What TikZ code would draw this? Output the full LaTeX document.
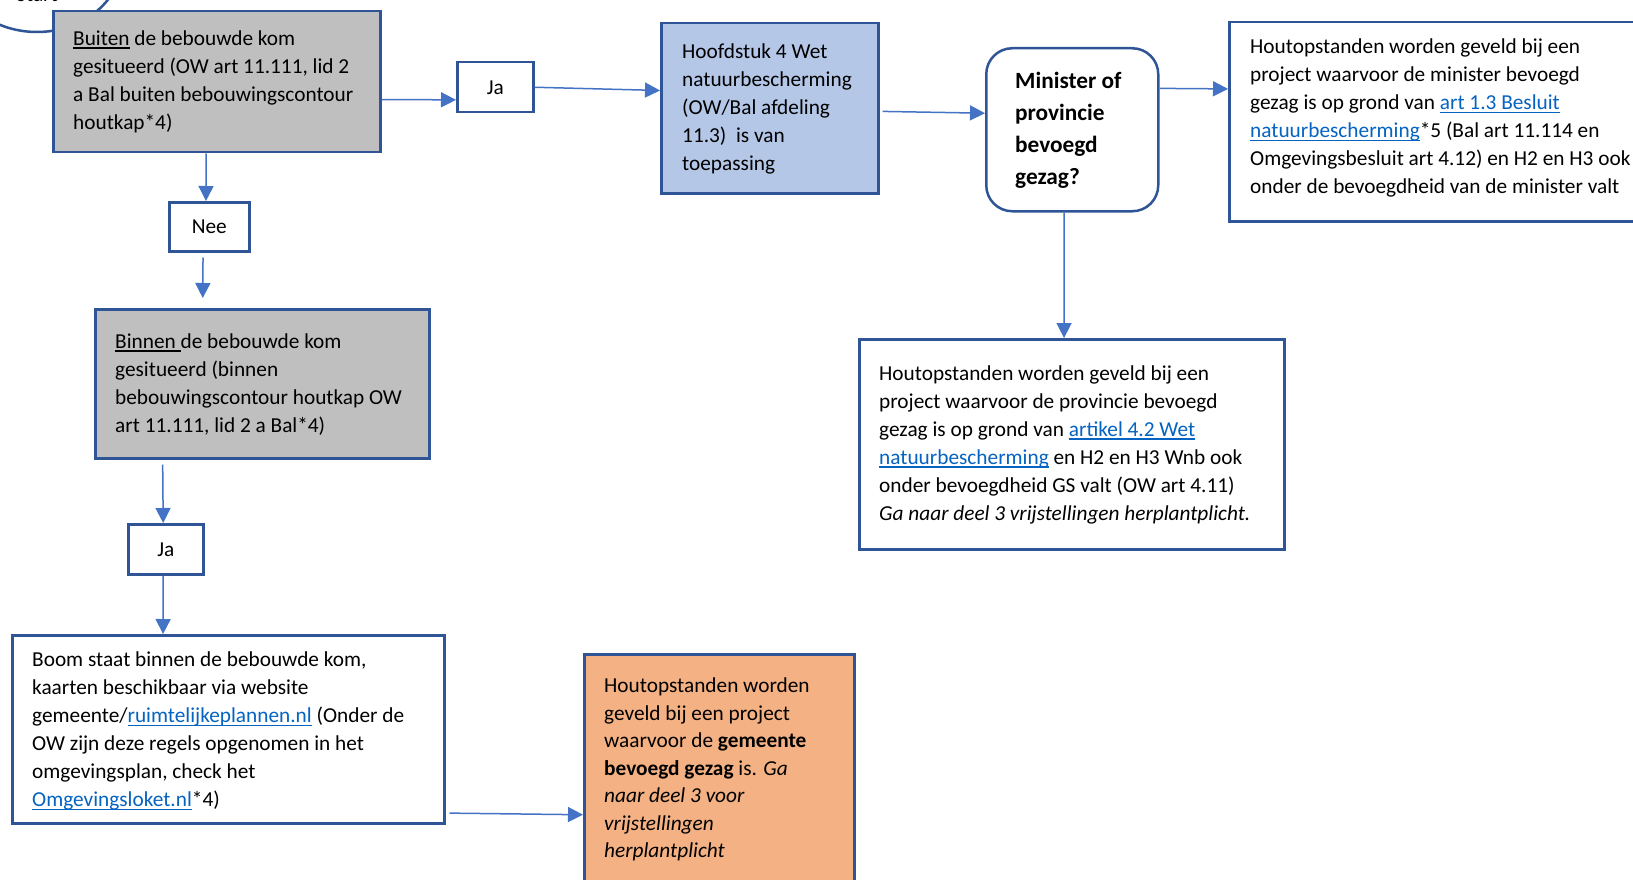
\documentclass[tikz,border=0pt]{standalone}
\usepackage{fontspec}
\setmainfont{Carlito}
\usetikzlibrary{arrows.meta,calc}
\definecolor{bdr}{HTML}{2F5597}
\definecolor{conn}{HTML}{4472C4}
\definecolor{grayfill}{HTML}{BFBFBF}
\definecolor{bluefill}{HTML}{B4C7E7}
\definecolor{orangefill}{HTML}{F4B183}
\definecolor{lnk}{HTML}{0563C1}
\newcommand{\myul}[1]{\setbox0\hbox{#1}\rlap{\rule[-3.5pt]{\wd0}{1.4pt}}\box0\relax}
\newcommand{\lnkt}[1]{{\color{lnk}\myul{#1}}}
\tikzset{
  box/.style={draw=bdr, line width=2.5pt, inner sep=0pt, anchor=north west, fill=white},
  txt/.style={anchor=north west, inner sep=0pt, align=left, font=\fontsize{21.3}{28}\selectfont},
  lbl/.style={inner sep=0pt, font=\fontsize{21.3}{28}\selectfont},
  arr/.style={-{Triangle[length=15pt,width=15pt]}, draw=conn, line width=1.5pt},
}
\begin{document}
\begin{tikzpicture}[x=1pt,y=-1pt]
\useasboundingbox (0,0) rectangle (1633,880);
\fill[white] (0,0) rectangle (1633,880);
\clip (0,0) rectangle (1633,880);

% start ellipse (mostly out of frame)
\node[lbl, anchor=base east] (start) at (58,2) {Start};
\draw[bdr, line width=2.5pt] (37,-40) ellipse [x radius=85, y radius=72];

% boxes
\node[box, fill=grayfill, minimum width=327pt, minimum height=141pt] (b1) at (52,10) {};
\node[txt] (b1t) at (73,25.4) {\strut\myul{Buiten} de bebouwde kom\\gesitueerd (OW art 11.111, lid 2\\a Bal buiten bebouwingscontour\\houtkap*4)};

\node[box, minimum width=76pt, minimum height=50pt] (ja1) at (456,61) {};
\node[lbl] (ja1t) at (ja1.center) {Ja};

\node[box, fill=bluefill, minimum width=217pt, minimum height=170pt] (hf) at (660,22) {};
\node[txt] (hft) at (682,38.4) {\strut Hoofdstuk 4 Wet\\natuurbescherming\\(OW/Bal afdeling\\11.3)\ \ is van\\toepassing};

\node[box, rounded corners=26pt, minimum width=172pt, minimum height=163pt] (mn) at (985,47) {};
\node[txt, font=\fontsize{23.3}{32}\bfseries] (mnt) at (1015,65.6) {\strut Minister of\\provincie\\bevoegd\\gezag?};

\node[box, minimum width=420pt, minimum height=199pt] (rb) at (1228,21) {};
\node[txt] (rbt) at (1250,34) {\strut Houtopstanden worden geveld bij een\\project waarvoor de minister bevoegd\\gezag is op grond van \lnkt{art 1.3 Besluit}\\\lnkt{natuurbescherming}*5 (Bal art 11.114 en\\Omgevingsbesluit art 4.12) en H2 en H3 ook\\onder de bevoegdheid van de minister valt};

\node[box, minimum width=425pt, minimum height=210pt] (pv) at (858,338) {};
\node[txt] (pvt) at (879,360.4) {\strut Houtopstanden worden geveld bij een\\project waarvoor de provincie bevoegd\\gezag is op grond van \lnkt{artikel 4.2 Wet}\\\lnkt{natuurbescherming} en H2 en H3 Wnb ook\\onder bevoegdheid GS valt (OW art 4.11)\\\textit{Ga naar deel 3 vrijstellingen herplantplicht.}};

\node[box, minimum width=80pt, minimum height=49pt] (nee) at (168,201) {};
\node[lbl] (neet) at (nee.center) {Nee};

\node[box, fill=grayfill, minimum width=334pt, minimum height=149pt] (bn) at (94,308) {};
\node[txt] (bnt) at (115,328.4) {\strut\myul{Binnen\ }de bebouwde kom\\gesitueerd (binnen\\bebouwingscontour houtkap OW\\art 11.111, lid 2 a Bal*4)};

\node[box, minimum width=75pt, minimum height=50pt] (ja2) at (127,523) {};
\node[lbl] (ja2t) at (ja2.center) {Ja};

\node[box, minimum width=432pt, minimum height=188pt] (bm) at (11,634) {};
\node[txt] (bmt) at (32,647) {\strut Boom staat binnen de bebouwde kom,\\kaarten beschikbaar via website\\gemeente/\lnkt{ruimtelijkeplannen.nl} (Onder de\\OW zijn deze regels opgenomen in het\\omgevingsplan, check het\\\lnkt{Omgevingsloket.nl}*4)};

\node[box, fill=orangefill, minimum width=270pt, minimum height=240pt] (gm) at (583,653) {};
\node[txt, font=\fontsize{21.3}{27.5}\selectfont] (gmt) at (604,673.4) {\strut Houtopstanden worden\\geveld bij een project\\waarvoor de \textbf{gemeente}\\\textbf{bevoegd gezag} is. \textit{Ga}\\\textit{naar deel 3 voor}\\\textit{vrijstellingen}\\\textit{herplantplicht}};

% connectors
\draw[arr] ($(b1.north east)!0.624!(b1.south east)$) -- ($(ja1.north west)!0.74!(ja1.south west)$);
\draw[arr] (ja1.east) -- ($(hf.north west)!0.397!(hf.south west)$);
\draw[arr, shorten <=3pt] ($(hf.north east)!0.518!(hf.south east)$) -- ($(mn.north west)!0.40!(mn.south west)$);
\draw[arr] ($(mn.north east)!0.25!(mn.south east)$) -- ($(rb.north west)!0.337!(rb.south west)$);
\draw[arr] ($(mn.south west)!0.453!(mn.south east)$) -- ($(pv.north west)!0.482!(pv.north east)$);
\draw[arr] ($(b1.south west)!0.468!(b1.south east)$) -- ($(nee.north west)!0.46!(nee.north east)$);
\draw[arr, shorten <=5pt, shorten >=10pt] ($(nee.south west)!0.425!(nee.south east)$) -- ($(bn.north west)!0.323!(bn.north east)$);
\draw[arr, shorten <=5pt] ($(bn.south west)!0.204!(bn.south east)$) -- ($(ja2.north west)!0.467!(ja2.north east)$);
\draw[arr] ($(ja2.south west)!0.467!(ja2.south east)$) -- ($(bm.north west)!0.35!(bm.north east)$);
\draw[arr, shorten <=4pt] ($(bm.north east)!0.94!(bm.south east)$) -- ($(gm.north west)!0.667!(gm.south west)$);
\end{tikzpicture}
\end{document}
